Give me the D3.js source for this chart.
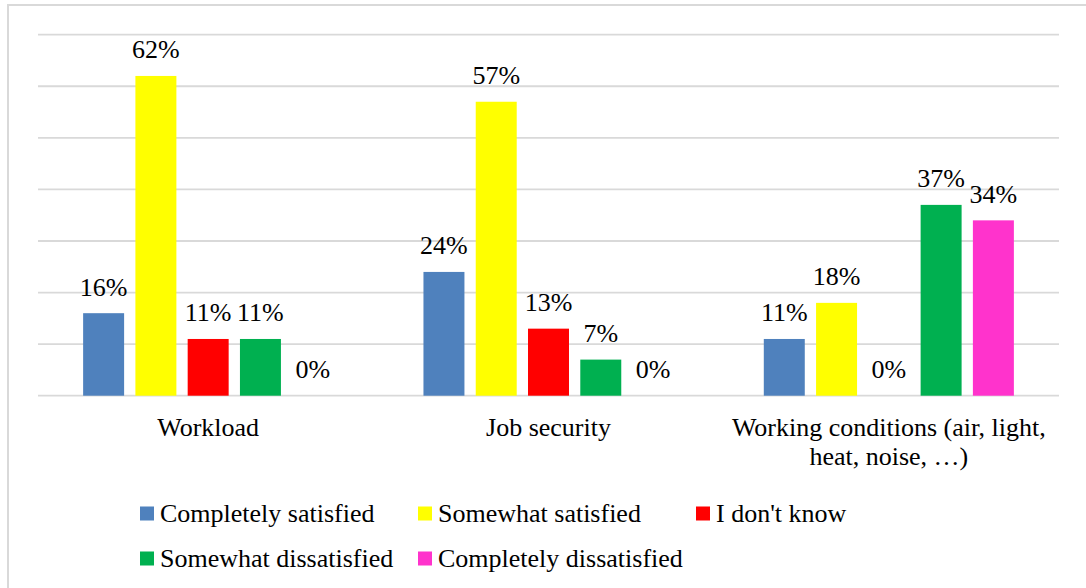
<!DOCTYPE html>
<html>
<head>
<meta charset="utf-8">
<script src="https://cdn.jsdelivr.net/npm/d3@7"></script>
<style>
  html, body { margin: 0; padding: 0; background: #fff; }
  svg { display: block; }
</style>
</head>
<body>
<svg id="chart" width="1086" height="588"></svg>
<script>
// Satisfaction survey: share of responses per aspect of the job
const categories = ["Workload", "Job security", "Working conditions (air, light, heat, noise, …)"];
const categoryLines = [["Workload"], ["Job security"], ["Working conditions (air, light,", "heat, noise, …)"]];
const seriesNames = ["Completely satisfied", "Somewhat satisfied", "I don't know", "Somewhat dissatisfied", "Completely dissatisfied"];
const seriesColors = ["#4F81BD", "#FFFF00", "#FF0000", "#00B050", "#FF33CC"];
const completelySatisfied = [16, 24, 11];
const somewhatSatisfied = [62, 57, 18];
const dontKnow = [11, 13, 0];
const somewhatDissatisfied = [11, 7, 37];
const completelyDissatisfied = [0, 0, 34];
const gridTicks = [0, 10, 20, 30, 40, 50, 60, 70];

const seriesValues = [completelySatisfied, somewhatSatisfied, dontKnow, somewhatDissatisfied, completelyDissatisfied];

const FONT = "Liberation Serif";
const svg = d3.select("#chart");
const W = 1086, H = 588;

// chart frame
svg.append("rect").attr("x", 8).attr("y", 5).attr("width", W + 10).attr("height", H + 10)
  .attr("fill", "#fff").attr("stroke", "#D9D9D9").attr("stroke-width", 2);

const plot = { left: 38, right: 1059, top: 34.7, bottom: 395.7 };

const x0 = d3.scaleBand().domain(categories).range([plot.left, plot.right]).paddingInner(0).paddingOuter(0);
const clusterW = x0.bandwidth() * 0.768;
const x1 = d3.scaleBand().domain(seriesNames).range([0, clusterW]).paddingInner(0.216).paddingOuter(0.108);
const y = d3.scaleLinear().domain([0, 70]).range([plot.bottom, plot.top]);

// horizontal gridlines
svg.append("g").selectAll("line").data(gridTicks).join("line")
  .attr("x1", plot.left).attr("x2", plot.right)
  .attr("y1", d => y(d)).attr("y2", d => y(d))
  .attr("stroke", "#D9D9D9").attr("stroke-width", 1.8);

const rows = [];
categories.forEach((c, ci) => {
  seriesNames.forEach((s, si) => {
    rows.push({ cat: c, series: s, color: seriesColors[si], value: seriesValues[si][ci] });
  });
});

const offset = (x0.bandwidth() - clusterW) / 2;

svg.append("g").selectAll("rect").data(rows.filter(d => d.value > 0)).join("rect")
  .attr("x", d => x0(d.cat) + offset + x1(d.series))
  .attr("y", d => y(d.value))
  .attr("width", x1.bandwidth())
  .attr("height", d => y(0) - y(d.value))
  .attr("fill", d => d.color);

// value labels
svg.append("g").selectAll("text").data(rows).join("text")
  .attr("x", d => x0(d.cat) + offset + x1(d.series) + x1.bandwidth() / 2)
  .attr("y", d => y(d.value) - 17.5)
  .attr("text-anchor", "middle")
  .attr("font-family", FONT)
  .attr("font-size", 26)
  .attr("fill", "#000")
  .text(d => d.value + "%");

// category labels
const catG = svg.append("g");
categories.forEach((c, i) => {
  const t = catG.append("text")
    .attr("x", x0(c) + x0.bandwidth() / 2)
    .attr("y", 435.5)
    .attr("text-anchor", "middle")
    .attr("font-family", FONT)
    .attr("font-size", 26)
    .attr("fill", "#000");
  categoryLines[i].forEach((line, li) => {
    t.append("tspan").attr("x", x0(c) + x0.bandwidth() / 2).attr("dy", li === 0 ? 0 : 29.5).text(line);
  });
});

// legend
const legendPos = [
  { x: 140, y: 521.5 }, { x: 418, y: 521.5 }, { x: 696, y: 521.5 },
  { x: 140, y: 566.5 }, { x: 418, y: 566.5 }
];
const leg = svg.append("g").selectAll("g").data(seriesNames).join("g")
  .attr("transform", (d, i) => `translate(${legendPos[i].x},${legendPos[i].y})`);
leg.append("rect").attr("x", 0).attr("y", -15).attr("width", 14).attr("height", 14)
  .attr("fill", (d, i) => seriesColors[i]);
leg.append("text").attr("x", 20).attr("y", 0)
  .attr("font-family", FONT)
  .attr("font-size", 26).attr("fill", "#000").text(d => d);
</script>
</body>
</html>
